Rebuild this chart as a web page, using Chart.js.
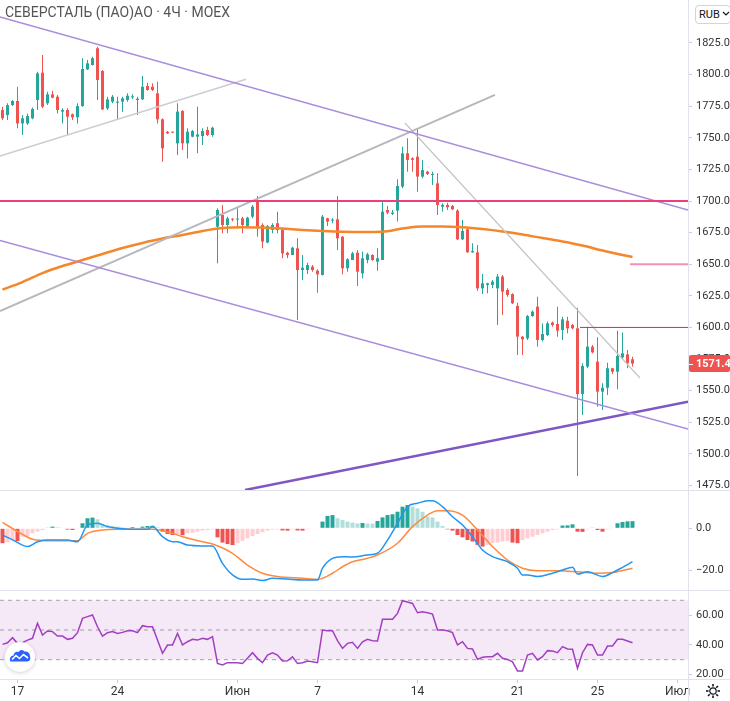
<!DOCTYPE html>
<html>
<head>
<meta charset="utf-8">
<script src="https://cdn.jsdelivr.net/npm/chart.js@4.4.1/dist/chart.umd.min.js"></script>
<style>
  html, body { margin: 0; padding: 0; background: #fff; }
  #wrap { position: relative; width: 730px; height: 701px; overflow: hidden; font-family: Roboto, "Noto Sans", sans-serif; }
  canvas { position: absolute; left: 0; }
  .sep { position: absolute; background: #e0e3eb; }
  #title { position: absolute; left: 5px; top: 4px; font-size: 14px; color: #555; white-space: nowrap; }
  #rub { position: absolute; left: 695px; top: 5px; width: 31px; height: 17px; border: 1px solid #d1d4dc; border-radius: 4px;
         font-size: 11px; line-height: 17px; color: #131722; padding-left: 3px; box-sizing: content-box; background: #fff; }
  #logo { position: absolute; left: 5px; top: 642px; width: 30px; height: 30px; border-radius: 50%; background: #fff;
          box-shadow: 0 1px 4px rgba(0,0,0,0.18); }
  #gear { position: absolute; left: 705px; top: 683px; }
</style>
</head>
<body>
<div id="wrap">
  <canvas id="main" width="730" height="490" style="top:0"></canvas>
  <canvas id="macd" width="730" height="99" style="top:491px"></canvas>
  <canvas id="rsi" width="730" height="110" style="top:591px"></canvas>
  <div class="sep" style="left:0;top:490px;width:730px;height:1px"></div>
  <div class="sep" style="left:0;top:590px;width:730px;height:1px"></div>
  <div class="sep" style="left:0;top:679px;width:730px;height:1px"></div>
  <div class="sep" style="left:688px;top:0;width:1px;height:701px"></div>
  <div id="title">СЕВЕРСТАЛЬ (ПАО)АО · 4Ч · MOEX</div>
  <div id="rub">RUB<svg width="8" height="6" style="margin-left:2px;vertical-align:1px"><polyline points="1,1 4,4 7,1" fill="none" stroke="#131722" stroke-width="1.2"/></svg></div>
  <div id="logo">
    <svg width="30" height="30">
      <path d="M5 19 Q4 14 8.5 13.5 Q9.5 9 13.5 10 Q16 6.5 19.5 9.5 Q24.5 9 25 14 Q26.5 19 22 19.5 L7.5 19.5 Q5.5 19.5 5 19 Z" fill="#2962ff"/>
      <polyline points="7,17.5 11,13.5 14.5,16.5 18.5,12.5 23,16" fill="none" stroke="#fff" stroke-width="1.6"/>
    </svg>
  </div>
  <svg id="gear" width="16" height="16">
    <circle cx="8" cy="8" r="3.2" fill="none" stroke="#131722" stroke-width="1.2"/>
    <g stroke="#131722" stroke-width="1.6">
      <line x1="8" y1="1" x2="8" y2="3.5"/><line x1="8" y1="12.5" x2="8" y2="15"/>
      <line x1="1" y1="8" x2="3.5" y2="8"/><line x1="12.5" y1="8" x2="15" y2="8"/>
      <line x1="3" y1="3" x2="4.8" y2="4.8"/><line x1="11.2" y1="11.2" x2="13" y2="13"/>
      <line x1="13" y1="3" x2="11.2" y2="4.8"/><line x1="4.8" y1="11.2" x2="3" y2="13"/>
    </g>
  </svg>
</div>
<script>
// 4H bars, bar 0 = first bar of 17 May, 4 bars per trading day
const firstBar = -3;

const open = [
  1772.0, 1768.0, 1775.9, 1779.1, 1761.4, 1761.4, 1765.4, 1779.9, 1801.5, 1777.3,
  1784.4, 1782.5, 1770.7, 1772.0, 1768.6, 1766.2, 1775.1, 1804.2, 1807.6, 1820.8,
  1802.8, 1773.3, 1778.6, 1777.8, 1778.6, 1779.9, 1782.0, 1779.9, 1780.4, 1791.0,
  1790.4, 1785.2, 1764.6, 1754.8, 1754.5, 1745.6, 1771.2, 1745.6, 1750.9, 1750.9,
  1751.4, 1756.2, 1752.2, 1679.7, 1689.0, 1681.0, 1686.0, 1685.3, 1686.3, 1680.2,
  1687.6, 1700.8, 1681.0, 1667.1, 1677.1, 1682.4, 1677.1, 1659.1, 1657.3, 1662.6,
  1645.4, 1645.4, 1648.1, 1644.9, 1641.5, 1686.3, 1684.5, 1685.5, 1671.8, 1646.8,
  1653.3, 1659.1, 1642.8, 1653.3, 1657.3, 1652.0, 1653.3, 1692.9, 1689.8, 1692.4,
  1711.4, 1737.7, 1733.8, 1735.1, 1719.3, 1723.2, 1720.6, 1714.0, 1695.5, 1696.9,
  1696.1, 1692.4, 1669.7, 1677.6, 1659.4, 1659.4, 1630.9, 1633.6, 1633.6, 1630.9,
  1640.2, 1629.6, 1626.4, 1617.0, 1592.7, 1591.4, 1609.0, 1616.4, 1590.1, 1594.0,
  1603.8, 1602.7, 1598.0, 1605.3, 1601.9, 1599.3, 1547.3, 1569.0, 1584.8, 1572.9,
  1549.2, 1552.3, 1567.7, 1565.0, 1576.3, 1578.7, 1574.8
];
const high = [
  1774.6, 1777.3, 1779.9, 1790.4, 1768.0, 1769.3, 1774.0, 1802.3, 1815.5, 1786.5,
  1787.3, 1783.8, 1773.3, 1773.3, 1769.3, 1777.3, 1812.9, 1811.5, 1814.2, 1822.1,
  1803.6, 1782.5, 1783.8, 1782.5, 1782.5, 1785.2, 1784.4, 1782.5, 1798.9, 1793.6,
  1793.1, 1794.4, 1765.4, 1755.4, 1755.0, 1777.3, 1772.0, 1757.5, 1756.2, 1774.6,
  1757.5, 1758.8, 1758.8, 1694.2, 1696.9, 1687.6, 1686.3, 1694.2, 1687.6, 1687.6,
  1696.9, 1704.0, 1682.4, 1681.0, 1682.4, 1691.6, 1678.4, 1659.9, 1663.9, 1670.5,
  1657.3, 1651.2, 1649.4, 1646.0, 1689.0, 1686.8, 1686.3, 1704.0, 1672.3, 1654.7,
  1659.9, 1661.3, 1659.9, 1659.1, 1657.8, 1662.6, 1699.5, 1696.1, 1692.9, 1717.2,
  1743.0, 1749.6, 1734.6, 1757.5, 1732.5, 1724.0, 1723.2, 1721.9, 1698.2, 1698.7,
  1696.9, 1693.4, 1685.0, 1678.4, 1666.5, 1665.2, 1642.3, 1635.4, 1637.5, 1642.3,
  1641.5, 1630.9, 1627.0, 1619.6, 1593.2, 1609.8, 1613.3, 1624.3, 1603.2, 1604.6,
  1604.6, 1616.4, 1608.5, 1608.5, 1602.7, 1615.6, 1571.6, 1600.6, 1586.1, 1592.2,
  1555.8, 1572.1, 1568.2, 1597.4, 1595.9, 1582.1, 1576.9
];
const low = [
  1764.1, 1764.1, 1775.1, 1757.5, 1752.2, 1760.1, 1764.6, 1772.0, 1773.3, 1775.9,
  1781.2, 1769.3, 1761.4, 1752.2, 1764.1, 1761.4, 1774.6, 1803.6, 1807.1, 1779.9,
  1772.0, 1772.0, 1777.3, 1764.6, 1770.7, 1778.6, 1780.7, 1768.0, 1779.9, 1787.3,
  1787.0, 1761.4, 1731.1, 1753.0, 1753.8, 1736.4, 1740.3, 1733.7, 1750.4, 1737.7,
  1744.3, 1751.4, 1750.9, 1650.7, 1674.4, 1674.4, 1683.7, 1678.4, 1674.4, 1678.4,
  1686.3, 1671.8, 1662.6, 1666.5, 1674.4, 1674.4, 1654.7, 1654.7, 1657.3, 1605.9,
  1637.5, 1642.3, 1644.1, 1627.5, 1641.0, 1680.2, 1682.4, 1661.3, 1642.0, 1644.1,
  1653.3, 1632.8, 1638.8, 1650.7, 1652.8, 1644.9, 1653.3, 1689.5, 1689.0, 1683.7,
  1710.0, 1723.2, 1723.2, 1707.4, 1718.0, 1720.6, 1712.7, 1689.0, 1691.6, 1692.9,
  1692.9, 1669.2, 1669.2, 1659.1, 1659.1, 1629.1, 1626.4, 1627.0, 1630.9, 1601.9,
  1609.8, 1624.3, 1618.5, 1578.2, 1578.2, 1590.1, 1608.5, 1584.8, 1588.8, 1593.2,
  1600.6, 1592.7, 1590.1, 1595.3, 1598.5, 1482.5, 1530.7, 1567.7, 1579.5, 1537.3,
  1534.7, 1546.5, 1563.2, 1551.0, 1574.8, 1567.7, 1569.0
];
const close = [
  1765.4, 1775.9, 1779.1, 1761.4, 1765.4, 1767.2, 1772.8, 1801.0, 1774.6, 1784.4,
  1781.7, 1772.0, 1772.0, 1766.7, 1766.2, 1775.1, 1804.4, 1808.9, 1812.9, 1795.7,
  1772.5, 1780.4, 1782.5, 1778.6, 1781.2, 1783.3, 1782.8, 1780.9, 1790.4, 1787.8,
  1787.8, 1764.6, 1741.7, 1753.5, 1754.0, 1770.7, 1745.6, 1754.8, 1755.4, 1752.7,
  1755.4, 1752.2, 1758.0, 1692.9, 1681.0, 1686.3, 1685.3, 1686.0, 1681.0, 1686.8,
  1695.5, 1679.7, 1667.9, 1680.2, 1681.0, 1677.1, 1658.6, 1657.3, 1663.1, 1645.4,
  1647.3, 1649.4, 1645.4, 1642.0, 1687.6, 1683.7, 1685.0, 1670.5, 1646.8, 1653.9,
  1658.6, 1644.1, 1654.7, 1657.8, 1653.3, 1654.7, 1691.6, 1690.8, 1690.8, 1711.9,
  1737.7, 1732.5, 1732.5, 1719.3, 1724.5, 1721.4, 1721.4, 1696.9, 1696.9, 1695.0,
  1693.4, 1669.7, 1676.3, 1659.4, 1660.5, 1630.9, 1634.9, 1634.9, 1636.2, 1640.2,
  1628.3, 1625.7, 1619.1, 1592.7, 1590.6, 1609.0, 1612.5, 1590.1, 1594.8, 1603.2,
  1601.9, 1597.4, 1606.4, 1599.3, 1599.3, 1547.3, 1569.5, 1584.8, 1580.3, 1549.2,
  1552.3, 1567.7, 1565.0, 1577.4, 1579.5, 1571.6, 1571.4
];

// moving average (read at one bar per day)
const maBars = [-3, 1, 5, 9, 13, 17, 21, 25, 29, 33, 37, 41, 45, 49, 53, 57, 61,
  65, 69, 73, 77, 81, 85, 89, 93, 97, 101, 105, 109, 113, 117, 121, 123];
const maVals = [1630.0, 1635.9, 1643.0, 1648.6, 1653.3, 1658.1, 1662.8, 1666.8, 1670.3,
  1673.1, 1676.3, 1678.6, 1679.2, 1679.0, 1678.2, 1677.1, 1676.3, 1675.7, 1675.5,
  1675.7, 1678.2, 1679.8, 1679.8, 1679.2, 1677.8, 1675.9, 1673.5, 1670.7, 1668.0,
  1664.8, 1660.8, 1657.3, 1655.7];

// drawings: [bar, price] end points
const channelTop = [[-3.5, 1845.6], [134.1, 1692.9]];
const channelBottom = [[-3.5, 1668.8], [134.1, 1519.6]];
const supportLine = [[45.5, 1471.4], [134.1, 1541.3]];
const grayShort = [[-3.5, 1735.6], [45.7, 1796.3]];
const grayLong = [[-3.5, 1613.0], [95.5, 1783.9]];
const grayDown = [[77.5, 1761.7], [124.5, 1560.0]];
const level1700 = [[-3.5, 1700], [134.1, 1700]];
const level1650 = [[122.5, 1650], [134.1, 1650]];
const level1600 = [[112.5, 1600], [134.1, 1600]];

// MACD
const macdHist = [
  -7.1, -6.6, -5.6, -6.1, -4.0, -3.7, -2.4, -1.6, -0.8, 0.3,
  0.8, 0.5, 0.2, -0.6, -0.8, -0.3, 2.4, 4.8, 5.1, 4.3,
  2.1, 1.6, 1.1, 0.8, 0.5, 0.3, 0.6, 0.3, 0.8, 1.1,
  1.2, 0.5, -1.6, -2.7, -3.2, -2.9, -3.3, -2.4, -2.1, -1.6,
  -1.1, -0.8, -0.5, -4.3, -6.8, -7.5, -8.0, -7.1, -6.0, -4.8,
  -3.7, -2.7, -1.9, -1.1, -0.6, -0.5, -1.0, -1.1, -0.5, -1.0,
  -1.1, -0.5, -0.3, -0.2, 3.2, 5.9, 6.3, 4.8, 4.0, 3.2,
  2.7, 2.3, 2.5, 2.3, 2.2, 3.5, 5.2, 6.3, 6.7, 7.9,
  10.3, 11.1, 10.3, 9.5, 7.9, 5.6, 5.2, 3.2, 1.1, -0.5,
  -1.1, -3.2, -4.3, -5.6, -6.3, -7.9, -8.7, -7.9, -7.1, -6.8,
  -6.3, -6.0, -6.8, -7.1, -5.6, -4.8, -4.0, -3.2, -2.4, -1.6,
  -0.8, -0.5, 1.3, 1.4, 1.9, -1.6, -1.7, -0.5, 0.3, -0.8,
  -1.6, -0.5, -0.3, 2.4, 3.0, 3.3, 3.4
];
const macdBars = [-3, -1, 1, 2, 4, 6, 10, 12, 14, 16, 18, 20, 23, 26, 27, 29, 31, 32, 34,
  37, 39, 41, 43, 45, 47, 49, 51, 54, 57, 60, 61, 63, 65, 67, 70, 72, 74, 76, 78, 80,
  82, 83, 85, 87, 89, 91, 93, 95, 98, 100, 101, 102, 104, 107, 109, 111, 112, 114,
  117, 119, 121, 123];
const macdVals = [-3.2, -5.5, -8.0, -8.7, -6.4, -5.6, -5.6, -6.4, 1.6, 2.4, 0.8, 0.0,
  -0.5, -0.5, 0.8, -4.0, -6.4, -6.4, -8.0, -8.4, -8.4, -16.7, -22.2, -24.3, -24.2,
  -24.9, -23.8, -24.2, -24.6, -24.6, -19.0, -14.3, -13.5, -13.7, -12.7, -11.9, -5.6,
  2.4, 10.3, 11.9, 13.1, 13.1, 10.3, 5.5, 1.6, -4.0, -10.3, -13.5, -15.9, -19.0,
  -22.2, -22.2, -23.0, -21.4, -19.9, -18.6, -21.8, -20.7, -23.0, -21.1, -18.6, -15.9];
const signalBars = [-3, 1, 3, 7, 12, 14, 17, 20, 27, 31, 33, 37, 39, 43, 46, 49, 52, 57,
  60, 63, 65, 67, 70, 72, 76, 79, 82, 84, 86, 89, 92, 95, 98, 101, 104, 108, 112,
  116, 119, 123];
const signalVals = [2.8, -2.9, -5.2, -5.9, -5.9, -2.4, -0.8, -0.5, -0.5, -2.4, -4.0,
  -6.4, -7.5, -11.9, -17.5, -21.4, -23.0, -23.8, -24.3, -21.4, -18.3, -15.9, -14.3,
  -12.7, -7.1, 0.8, 6.3, 8.4, 8.4, 6.3, -0.8, -8.7, -15.1, -19.0, -20.2, -20.2,
  -20.7, -21.4, -21.1, -19.0];

// RSI
const rsi = [
  40.3, 41.4, 44.8, 41.0, 41.4, 43.2, 44.4, 54.5, 46.6, 49.3,
  48.9, 45.9, 45.9, 43.7, 44.4, 48.2, 57.8, 59.0, 60.1, 52.2,
  45.9, 48.2, 48.9, 47.7, 48.4, 49.5, 49.5, 48.2, 52.9, 52.2,
  52.2, 43.2, 34.3, 39.9, 39.9, 47.7, 39.9, 42.1, 43.7, 43.2,
  44.4, 43.7, 45.5, 27.5, 26.4, 28.0, 28.0, 28.0, 27.5, 30.9,
  34.7, 30.9, 28.0, 33.1, 34.7, 33.1, 29.1, 29.3, 32.0, 27.5,
  28.0, 29.1, 28.6, 28.0, 50.0, 49.5, 49.5, 42.8, 37.6, 41.0,
  41.7, 37.6, 42.1, 43.7, 42.8, 42.6, 57.2, 57.2, 57.2, 61.2,
  69.7, 68.8, 67.9, 61.6, 62.3, 61.6, 60.7, 50.0, 50.0, 49.5,
  48.2, 39.9, 42.1, 37.6, 37.2, 30.2, 31.6, 32.0, 32.0, 34.3,
  30.9, 30.2, 28.6, 22.4, 22.4, 33.1, 34.3, 29.8, 32.0, 36.1,
  35.8, 34.7, 38.8, 37.2, 37.0, 24.2, 34.7, 40.3, 39.9, 33.1,
  33.1, 39.2, 39.2, 43.7, 43.7, 42.6, 41.4
];
const rsiLevels = [70, 50, 30];

// axes
const xTickBars = [0, 20, 44, 60, 80, 100, 116, 132];
const xTickLabels = ['17', '24', 'Июн', '7', '14', '21', '25', 'Июл'];
const priceTicks = [1475, 1500, 1525, 1550, 1575, 1600, 1625, 1650, 1675, 1700, 1725, 1750, 1775, 1800, 1825];
const macdTicks = [0, -20];
const rsiTicks = [20, 40, 60];

// ---------------------------------------------------------------
const xMin = -3.5, xMax = 134.1;
const GREEN = '#26a69a', RED = '#ef5350';
const bars = close.map((c, k) => firstBar + k);
const candleColor = bars.map((b, k) => close[k] >= open[k] ? GREEN : RED);

Chart.defaults.font.family = 'Roboto, "Noto Sans", sans-serif';
Chart.defaults.font.size = 11;
Chart.defaults.color = '#333';

const xAxis = { type: 'linear', min: xMin, max: xMax, display: false, offset: false, grid: { display: false } };

function noPad(s) {
    s.paddingTop = 0; s.paddingBottom = 0; s.paddingLeft = 0; s.paddingRight = 0;
}

function rightAxis(min, max, ticks, fmt) {
    return {
        type: 'linear', position: 'right', min: min, max: max,
        afterFit: s => { s.width = 42; noPad(s); },
        afterBuildTicks: s => { s.ticks = ticks.map(v => ({ value: v })); },
        border: { display: false },
        grid: { drawOnChartArea: false, drawTicks: true, tickLength: 4, color: '#c9ccd3' },
        ticks: { autoSkip: false, padding: 4, color: '#333', callback: fmt }
    };
}

function segment(pts, color, width) {
    return {
        type: 'line', data: pts.map(p => ({ x: p[0], y: p[1] })),
        borderColor: color, borderWidth: width, pointRadius: 0, pointHoverRadius: 0
    };
}

const baseOptions = {
    responsive: false, animation: false,
    layout: { padding: 0, autoPadding: false },
    plugins: { legend: { display: false }, tooltip: { enabled: false } }
};

// last price label on the price axis
const lastPricePlugin = {
    id: 'lastPrice',
    afterDraw(chart) {
        const last = close[close.length - 1];
        const y = chart.scales.y.getPixelForValue(last);
        const ctx = chart.ctx;
        ctx.save();
        ctx.fillStyle = RED;
        ctx.beginPath();
        ctx.roundRect(689, y - 8.5, 41, 17, 2);
        ctx.fill();
        ctx.strokeStyle = '#fff';
        ctx.lineWidth = 1;
        ctx.beginPath();
        ctx.moveTo(689, Math.round(y) + 0.5);
        ctx.lineTo(693, Math.round(y) + 0.5);
        ctx.stroke();
        ctx.fillStyle = '#fff';
        ctx.font = 'bold 11px Roboto, sans-serif';
        ctx.textBaseline = 'middle';
        ctx.fillText(last.toFixed(1), 696, y + 0.5);
        ctx.restore();
    }
};

new Chart(document.getElementById('main'), {
    type: 'bar',
    data: {
        datasets: [
            segment(level1700, '#ec407a', 2),
            segment(level1650, '#f48fb1', 2),
            segment(level1600, '#e91e63', 1),
            segment(channelTop, '#a88ddc', 1.5),
            segment(channelBottom, '#a88ddc', 1.5),
            segment(supportLine, '#7e57c2', 2.5),
            segment(grayShort, '#cdcbd4', 1.5),
            segment(grayLong, '#b7b7bd', 2),
            segment(grayDown, '#c4c4c8', 1.2),
            {
                type: 'line', data: maBars.map((b, k) => ({ x: b, y: maVals[k] })),
                borderColor: '#f5862a', borderWidth: 2.5, pointRadius: 0, pointHoverRadius: 0,
                cubicInterpolationMode: 'monotone'
            },
            {
                data: bars.map((b, k) => ({ x: b, y: [open[k], close[k]] })),
                backgroundColor: candleColor, barThickness: 3, minBarLength: 1,
                grouped: false, inflateAmount: 0, borderWidth: 0
            },
            {
                data: bars.map((b, k) => ({ x: b, y: [low[k], high[k]] })),
                backgroundColor: candleColor, barThickness: 1,
                grouped: false, inflateAmount: 0, borderWidth: 0
            }
        ]
    },
    options: Object.assign({}, baseOptions, {
        scales: {
            x: xAxis,
            y: rightAxis(1471.4, 1859, priceTicks, v => v.toFixed(1))
        }
    }),
    plugins: [lastPricePlugin]
});

// MACD pane
const histColor = macdHist.map((v, k) => {
    const prev = k > 0 ? macdHist[k - 1] : v;
    if (v >= 0) return v >= prev ? GREEN : '#b2dfdb';
    return v <= prev ? RED : '#ffcdd2';
});

new Chart(document.getElementById('macd'), {
    type: 'bar',
    data: {
        datasets: [
            {
                type: 'line', data: macdBars.map((b, k) => ({ x: b, y: macdVals[k] })),
                borderColor: '#2196f3', borderWidth: 1.5, pointRadius: 0, pointHoverRadius: 0,
                cubicInterpolationMode: 'monotone'
            },
            {
                type: 'line', data: signalBars.map((b, k) => ({ x: b, y: signalVals[k] })),
                borderColor: '#ff8a3d', borderWidth: 1.5, pointRadius: 0, pointHoverRadius: 0,
                cubicInterpolationMode: 'monotone'
            },
            {
                data: bars.map((b, k) => ({ x: b, y: macdHist[k] })),
                backgroundColor: histColor, barThickness: 4,
                grouped: false, inflateAmount: 0, borderWidth: 0
            }
        ]
    },
    options: Object.assign({}, baseOptions, {
        scales: {
            x: xAxis,
            y: rightAxis(-29.38, 17.76, macdTicks, v => (v < 0 ? '\u2212' : '') + Math.abs(v).toFixed(1))
        }
    })
});

// RSI pane
const levelSet = rsiLevels.map((lv, k) => ({
    type: 'line', data: [{ x: xMin, y: lv }, { x: xMax, y: lv }],
    borderColor: '#a3a6af', borderWidth: 1, borderDash: [4, 4], pointRadius: 0, pointHoverRadius: 0,
    fill: k === 0 ? { value: rsiLevels[rsiLevels.length - 1] } : false,
    backgroundColor: 'rgba(156, 39, 176, 0.1)'
}));

new Chart(document.getElementById('rsi'), {
    type: 'line',
    data: {
        datasets: [
            {
                data: bars.map((b, k) => ({ x: b, y: rsi[k] })),
                borderColor: '#a33ec3', borderWidth: 1.5, pointRadius: 0, pointHoverRadius: 0, tension: 0
            }
        ].concat(levelSet)
    },
    options: Object.assign({}, baseOptions, {
        scales: {
            x: {
                type: 'linear', min: xMin, max: xMax, offset: false,
                afterFit: s => { s.height = 22; noPad(s); },
                afterBuildTicks: s => { s.ticks = xTickBars.map(v => ({ value: v })); },
                border: { display: false },
                grid: { drawOnChartArea: false, drawTicks: true, tickLength: 4, color: '#c9ccd3' },
                ticks: {
                    autoSkip: false, maxRotation: 0, padding: 2, color: '#333', font: { size: 12 },
                    callback: v => xTickLabels[xTickBars.indexOf(v)]
                }
            },
            y: rightAxis(17.0, 76.26, rsiTicks, v => v.toFixed(2))
        }
    })
});
</script>
</body>
</html>
